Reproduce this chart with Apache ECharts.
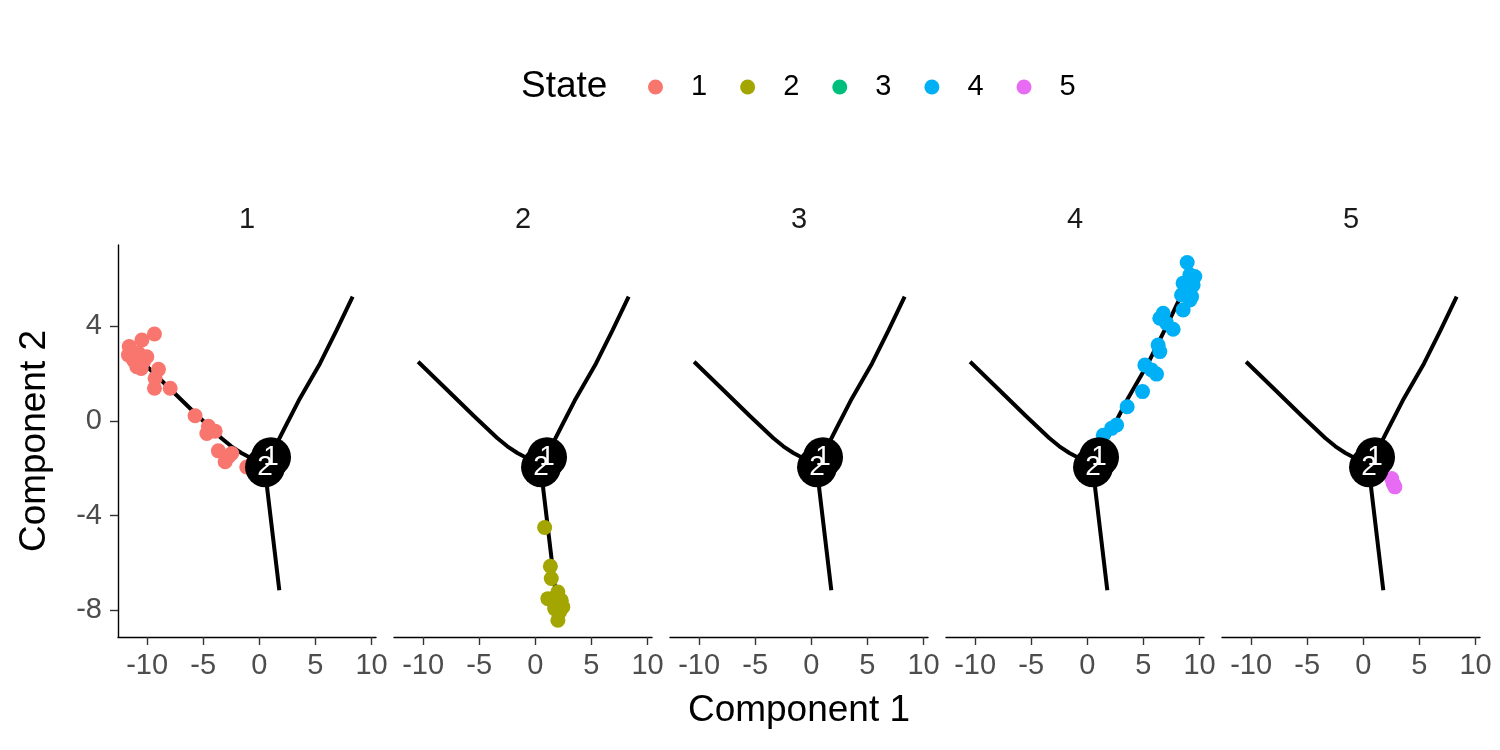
<!DOCTYPE html>
<html>
<head>
<meta charset="utf-8">
<script src="https://cdn.jsdelivr.net/npm/echarts@6/dist/echarts.min.js"></script>
<style>html,body{margin:0;padding:0;background:#fff}#chart{width:1500px;height:750px}</style>
</head>
<body>
<div id="chart"></div>
<script>
// ---- data ----
const states = ['1', '2', '3', '4', '5'];
const stateColors = ['#F8766D', '#A3A500', '#00BF7D', '#00B0F6', '#E76BF3'];
const xTicks = [-10, -5, 0, 5, 10];
const yTicks = [-8, -4, 0, 4];

// tree branches (trajectory backbone)
const branchLeft = [[-10.45, 2.50], [-7.9, 1.33], [-5.5, 0.22], [-3.4, -0.72], [-2.5, -1.07], [-1.6, -1.35], [-0.8, -1.55], [0.6, -1.90]];
const branchUp = [[1.0, -1.5], [1.45, -1.05], [2.2, -0.35], [3.5, 0.85], [5.41, 2.43], [6.9, 3.85], [8.32, 5.25]];
const branchDown = [[0.6, -2.0], [0.7, -2.85], [1.78, -7.15]];
const branchNodes = [[1.04, -1.53], [0.51, -1.95]];
const branchLabels = ['1', '2'];

// cells per state
const state1 = [[-9.35, 3.67], [-10.47, 3.42], [-11.6, 3.14], [-11.67, 2.79], [-11.22, 2.57], [-10.77, 2.86],
  [-10.33, 2.50], [-10.92, 2.29], [-10.53, 2.22], [-11.36, 2.92], [-10.03, 2.71], [-8.99, 2.18], [-9.29, 1.80],
  [-9.35, 1.38], [-7.95, 1.38], [-5.73, 0.22], [-4.54, -0.22], [-4.68, -0.53], [-3.94, -0.43], [-3.65, -1.26],
  [-2.76, -1.51], [-3.05, -1.72], [-2.46, -1.37], [-1.12, -1.94]];
const state2 = [[0.83, -4.50], [1.34, -6.13], [1.42, -6.65], [1.57, -7.50], [2.31, -7.57], [2.01, -7.22],
  [1.72, -7.92], [2.16, -8.06], [2.01, -8.41], [1.12, -7.50], [2.45, -7.85]];
const state3 = [];
const state4 = [[8.90, 6.69], [9.14, 6.17], [9.58, 6.10], [8.54, 5.82], [9.43, 5.74], [8.69, 5.46], [9.29, 5.25],
  [8.40, 5.32], [9.14, 5.11], [8.54, 4.69], [6.76, 4.55], [6.46, 4.34], [7.06, 4.13], [7.65, 3.87], [6.31, 3.21],
  [6.46, 2.93], [5.13, 2.36], [6.17, 1.98], [5.73, 2.15], [4.92, 1.24], [3.55, 0.60], [2.61, -0.17], [2.16, -0.31],
  [1.42, -0.60], [1.27, -0.95]];
const state5 = [[2.52, -2.43], [2.66, -2.64], [2.81, -2.78]];
const stateCells = [state1, state2, state3, state4, state5];

// ---- chart ----
const FONT = '"Liberation Sans", Arial, sans-serif';
const chart = echarts.init(document.getElementById('chart'), null, { renderer: 'canvas' });

const grids = [], xAxes = [], yAxes = [], series = [], titles = [];
const PANEL_W = 258, PANEL_STEP = 276, PANEL_LEFT = 118, PANEL_TOP = 245, PANEL_H = 392;

states.forEach((s, i) => {
  grids.push({ left: PANEL_LEFT + PANEL_STEP * i, top: PANEL_TOP, width: PANEL_W, height: PANEL_H });
  xAxes.push({
    type: 'value', gridIndex: i, min: -12.6, max: 10.4,
    axisLine: { show: true, onZero: false, lineStyle: { color: '#000', width: 1.4 } },
    axisTick: { show: true, length: 8, customValues: xTicks, lineStyle: { color: '#333', width: 1.4 } },
    axisLabel: { customValues: xTicks, color: '#4D4D4D', fontSize: 29, fontFamily: FONT, margin: 14 },
    splitLine: { show: false }
  });
  yAxes.push({
    type: 'value', gridIndex: i, min: -9.12, max: 7.43, show: i === 0,
    axisLine: { show: true, onZero: false, lineStyle: { color: '#000', width: 1.4 } },
    axisTick: { show: true, length: 8, customValues: yTicks, lineStyle: { color: '#333', width: 1.4 } },
    axisLabel: { customValues: yTicks, color: '#4D4D4D', fontSize: 29, fontFamily: FONT, margin: 16 },
    splitLine: { show: false }
  });
  titles.push({
    text: s, left: PANEL_LEFT + PANEL_STEP * i + PANEL_W / 2, top: 205, textAlign: 'center', padding: 0,
    textStyle: { fontSize: 29, fontWeight: 'normal', color: '#1A1A1A', fontFamily: FONT, lineHeight: 30 }
  });
  [branchLeft, branchUp, branchDown].forEach(br => {
    series.push({
      type: 'line', xAxisIndex: i, yAxisIndex: i, data: br, showSymbol: false, symbol: 'none',
      lineStyle: { color: '#000', width: 4 }, z: 2, silent: true, animation: false
    });
  });
  series.push({
    name: s, type: 'scatter', xAxisIndex: i, yAxisIndex: i, data: stateCells[i], symbolSize: 15,
    itemStyle: { color: stateColors[i], opacity: 1 }, z: 3, animation: false, silent: true
  });
  series.push({
    type: 'scatter', xAxisIndex: i, yAxisIndex: i, symbolSize: 40, z: 4, animation: false, silent: true,
    data: branchNodes.map((p, k) => ({ value: p, name: branchLabels[k] })),
    itemStyle: { color: '#000', opacity: 1 },
    label: { show: true, position: 'inside', formatter: '{b}', color: '#fff', fontSize: 28, fontFamily: FONT }
  });
});

titles.push({
  text: 'State', left: 521, top: 67, padding: 0,
  textStyle: { fontSize: 37, fontWeight: 'normal', color: '#000', fontFamily: FONT, lineHeight: 40 }
});
titles.push({
  text: 'Component 1', left: 799, top: 691, textAlign: 'center', padding: 0,
  textStyle: { fontSize: 37, fontWeight: 'normal', color: '#000', fontFamily: FONT, lineHeight: 40 }
});

chart.setOption({
  backgroundColor: '#fff',
  animation: false,
  title: titles,
  graphic: [{
    type: 'text', x: 35, y: 441, rotation: Math.PI / 2,
    style: { text: 'Component 2', fontSize: 37, fill: '#000', fontFamily: FONT, align: 'center', verticalAlign: 'middle' }
  }],
  legend: {
    data: states, left: 648, top: 72, padding: 0, icon: 'circle', itemWidth: 15, itemHeight: 15, itemGap: 33,
    selectedMode: false,
    textStyle: { fontSize: 29, color: '#000', fontFamily: FONT, padding: [0, 0, 0, 23], lineHeight: 30 }
  },
  grid: grids,
  xAxis: xAxes,
  yAxis: yAxes,
  series: series
});
</script>
</body>
</html>
